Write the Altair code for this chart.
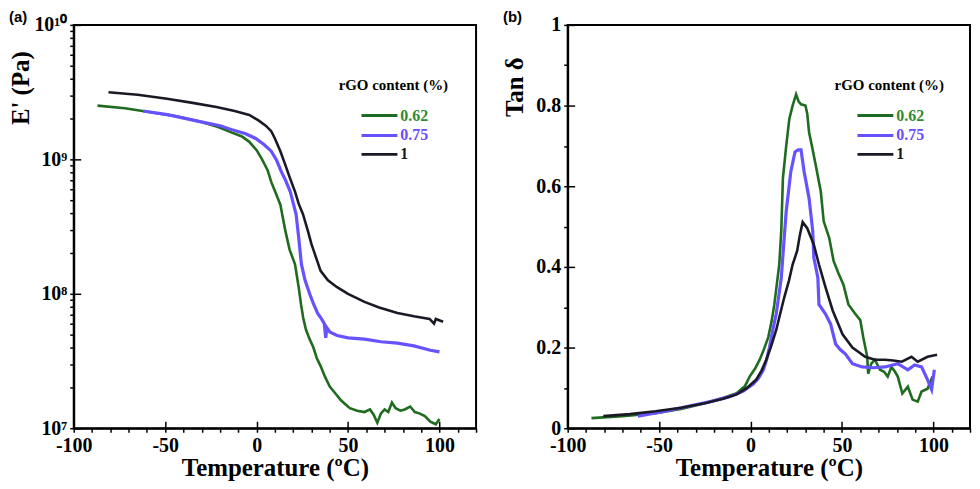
import altair as alt
import pandas as pd

# ---------------- data ----------------
SERIES = ["0.62", "0.75", "1"]
LINE_COLORS = ["#1f6b1f", "#6652ff", "#1a1a26"]
LABEL_COLORS = ["#2e8b2e", "#6a4cff", "#1a1a1a"]

# (a) storage modulus E' (Pa)
T_E_062 = [-87, -72, -58, -44, -31, -21, -13.5, -8, -4, 0, 3, 6, 8, 10.5, 13, 15.7, 18, 21, 23, 24.3,
           25.5, 27, 29, 31, 33, 35, 37.5, 40, 43, 46, 48.5, 51, 55, 59, 62, 64, 66, 68, 70, 72,
           74, 76, 78.6, 81, 84, 86.5, 89, 92, 95, 98, 100]
E_062 = [2.51e9, 2.40e9, 2.24e9, 2.09e9, 1.91e9, 1.74e9, 1.58e9, 1.48e9, 1.35e9, 1.17e9, 1.0e9, 8.3e8,
         6.8e8, 5.6e8, 4.6e8, 2.95e8, 2.14e8, 1.66e8, 1.12e8, 8.3e7, 6.6e7, 5.4e7, 4.6e7, 4.0e7, 3.3e7,
         2.9e7, 2.4e7, 2.04e7, 1.82e7, 1.62e7, 1.51e7, 1.41e7, 1.35e7, 1.32e7, 1.38e7, 1.26e7, 1.1e7,
         1.29e7, 1.38e7, 1.32e7, 1.55e7, 1.41e7, 1.35e7, 1.38e7, 1.45e7, 1.32e7, 1.29e7, 1.23e7, 1.12e7,
         1.07e7, 1.17e7]

T_E_075 = [-62, -48, -31, -20, -13.5, -6, -0.5, 4, 8, 11, 13.5, 16, 18.4, 21.6, 23, 24.5, 26.5, 29, 31,
           33.5, 35.5, 37, 37.8, 38.4, 40, 44, 50, 59, 68, 77, 86, 95, 100]
E_075 = [2.29e9, 2.14e9, 1.91e9, 1.78e9, 1.66e9, 1.55e9, 1.43e9, 1.29e9, 1.15e9, 9.8e8, 8.1e8, 6.9e8,
         5.75e8, 3.9e8, 2.63e8, 1.66e8, 1.26e8, 1.0e8, 8.5e7, 7.1e7, 6.5e7, 6.0e7, 4.7e7, 5.6e7, 5.2e7,
         4.9e7, 4.7e7, 4.6e7, 4.4e7, 4.3e7, 4.1e7, 3.8e7, 3.7e7]

T_E_1 = [-81, -65, -49, -35, -22, -12, -4, 1, 5, 8, 10, 13, 15.7, 18, 21, 23, 25.4, 28, 30, 32, 35, 39,
         44, 50, 59, 67, 77, 86, 94.6, 97, 98, 102]
E_1 = [3.16e9, 3.02e9, 2.82e9, 2.63e9, 2.45e9, 2.29e9, 2.14e9, 1.95e9, 1.78e9, 1.62e9, 1.43e9, 1.15e9,
       9.1e8, 7.4e8, 5.75e8, 4.68e8, 3.89e8, 2.95e8, 2.34e8, 1.95e8, 1.48e8, 1.26e8, 1.12e8, 1.0e8,
       8.7e7, 7.9e7, 7.2e7, 6.8e7, 6.5e7, 6.0e7, 6.5e7, 6.2e7]

# (b) Tan delta
T_D_062 = [-87, -70, -52, -38, -25, -15, -7.6, -3, -0.5, 2.5, 5, 7.5, 9.7, 11.5, 13, 15.7, 16.8, 17.7,
           19.5, 21.2, 23, 24.9, 26.3, 27.6, 30, 31, 32, 34, 35.7, 38.4, 40, 43, 45.4, 48, 50.8, 53.5,
           57, 60, 61.6, 63.8, 64.3, 66, 68, 70.8, 73, 75, 77, 79, 80.5, 83, 86, 88.6, 91.4, 93.5,
           96.8, 99.5]
D_062 = [0.025, 0.03, 0.037, 0.048, 0.062, 0.075, 0.087, 0.105, 0.128, 0.148, 0.17, 0.198, 0.226,
         0.265, 0.307, 0.406, 0.49, 0.62, 0.70, 0.767, 0.80, 0.828, 0.81, 0.803, 0.80, 0.78, 0.734,
         0.69, 0.651, 0.587, 0.513, 0.472, 0.415, 0.385, 0.356, 0.307, 0.285, 0.268, 0.226, 0.177,
         0.135, 0.16, 0.17, 0.145, 0.14, 0.128, 0.152, 0.14, 0.128, 0.086, 0.103, 0.071, 0.066, 0.091,
         0.098, 0.128]

T_D_075 = [-61.6, -48, -34.6, -22, -11, -4, 1.6, 4.5, 7, 8.8, 10.3, 12, 14, 15.5, 16.8, 18.4, 19.5, 22,
           24.3, 26, 27.6, 29.3, 32, 34, 34.6, 36.8, 37.4, 41, 43.8, 46.5, 49, 51.9, 55.7, 61, 67,
           73.5, 80.5, 86, 89.7, 93.5, 96.8, 99, 100.5]
D_075 = [0.03, 0.041, 0.054, 0.066, 0.079, 0.092, 0.11, 0.125, 0.145, 0.17, 0.2, 0.24, 0.283, 0.33,
         0.373, 0.472, 0.538, 0.636, 0.685, 0.69, 0.69, 0.636, 0.57, 0.489, 0.423, 0.373, 0.307, 0.283,
         0.258, 0.209, 0.195, 0.184, 0.16, 0.152, 0.15, 0.152, 0.16, 0.145, 0.157, 0.152, 0.12, 0.096,
         0.145]

T_D_1 = [-80.5, -66, -52, -38, -25, -15, -7.6, -2, 3, 6, 8.6, 11, 14, 16, 18.4, 21, 23, 25.5, 27, 28.5,
         31, 34.6, 37.4, 41, 44.9, 50.3, 55.7, 62.7, 68, 73.5, 78, 82.7, 88, 91.4, 96.8, 102]
D_1 = [0.03, 0.035, 0.042, 0.051, 0.062, 0.073, 0.084, 0.1, 0.12, 0.143, 0.17, 0.2, 0.243, 0.28, 0.324,
       0.366, 0.406, 0.44, 0.48, 0.511, 0.496, 0.455, 0.406, 0.349, 0.292, 0.233, 0.2, 0.177, 0.17,
       0.17, 0.168, 0.165, 0.177, 0.165, 0.177, 0.182]

X_TICKS = list(range(-100, 121, 10))
X_MAJOR = [-100, -50, 0, 50, 100]
E_TICKS = [k * 10 ** e for e in (7, 8, 9) for k in range(1, 10)] + [10 ** 10]
E_MAJOR = [10 ** 7, 10 ** 8, 10 ** 9, 10 ** 10]
D_TICKS = [i / 10 for i in range(0, 11)]
D_MAJOR = [0, 0.2, 0.4, 0.6, 0.8, 1]

SERIF = "Liberation Serif"
LEGEND_Y = [53, 91, 110]
PANEL_W = 404
PANEL_H = 405
X_SCALE = alt.Scale(domain=[-100, 120], nice=False)


def frame(ts, vs, name):
    return pd.DataFrame({"T": ts, "v": vs, "rGO": name})


X_AXIS = alt.Axis(
    values=X_TICKS, title="Temperature (ºC)", orient="bottom",
    labelExpr="datum.value % 50 == 0 ? '' + datum.value : ''",
    tickSize=4, labelPadding=3, titlePadding=0, labelFlush=False,
)


def major_axis(values, orient):
    return alt.Axis(values=values, orient=orient, labels=False, domain=False, title=None,
                    tickSize={"expr": "-7"}, tickWidth=1.5, grid=False)


def legend(i, lx):
    kw = dict(
        orient="none", legendX=lx, legendY=LEGEND_Y[i], padding=0,
        symbolType="stroke", symbolSize=1300, symbolStrokeWidth=3, symbolOffset=21,
        labelFont=SERIF, labelFontSize=16, labelFontWeight="bold", labelOffset=1,
        labelColor=LABEL_COLORS[i],
    )
    if i == 0:
        return alt.Legend(title="rGO content (%)", titleFont=SERIF, titleFontSize=15,
                          titleFontWeight="bold", titleColor="black", titlePadding=3, **kw)
    return alt.Legend(title=None, **kw)


def panel(frames, y_scale, y_axis, y_major, tag, lx):
    layers = []
    for i, f in enumerate(frames):
        layers.append(
            alt.Chart(f).mark_line(strokeWidth=3.2 if i == 1 else 2.6).encode(
                x=alt.X("T:Q", scale=X_SCALE, axis=X_AXIS),
                y=alt.Y("v:Q", scale=y_scale, axis=y_axis),
                color=alt.Color("rGO:N", scale=alt.Scale(domain=[SERIES[i]], range=[LINE_COLORS[i]]),
                                legend=legend(i, lx)),
                order=alt.Order("T:Q"),
            )
        )
    series = alt.layer(*layers).resolve_scale(color="independent").resolve_legend(color="independent")
    ticks = alt.Chart(frames[0]).mark_line(opacity=0).encode(
        x=alt.X("T:Q", scale=X_SCALE, axis=major_axis(X_MAJOR, "bottom")),
        y=alt.Y("v:Q", scale=y_scale, axis=major_axis(y_major, "left")),
    )
    return alt.layer(series, ticks).resolve_axis(x="independent", y="independent").properties(
        width=PANEL_W, height=PANEL_H,
        title=alt.TitleParams(tag, anchor="start", frame="bounds", font="Liberation Sans",
                              fontSize=15, fontWeight="bold", offset=-10),
    )


sup = {7: "⁷", 8: "⁸", 9: "⁹", 10: "¹⁰"}
e_label = " : ".join("datum.value == %d ? '10%s'" % (10 ** p, s) for p, s in sup.items()) + " : ''"

axis_a = alt.Axis(values=E_TICKS, labelExpr=e_label, title="E' (Pa)", orient="left", tickSize=4,
                  titleAnchor="middle", titleX=-40, titleY=63, labelPadding=3, labelFlush=False)
axis_b = alt.Axis(values=D_TICKS, title="Tan δ", orient="left", tickSize=4,
                  labelExpr="round(datum.value * 10) % 2 == 0 ? '' + datum.value : ''",
                  titleAnchor="middle", titleX=-40, titleY=62, labelPadding=3, labelFlush=False)

panel_a = panel([frame(T_E_062, E_062, SERIES[0]), frame(T_E_075, E_075, SERIES[1]),
                 frame(T_E_1, E_1, SERIES[2])],
                alt.Scale(type="log", domain=[1e7, 1e10], nice=False), axis_a, E_MAJOR, "(a)", 266)
panel_b = panel([frame(T_D_062, D_062, SERIES[0]), frame(T_D_075, D_075, SERIES[1]),
                 frame(T_D_1, D_1, SERIES[2])],
                alt.Scale(domain=[0, 1], nice=False), axis_b, D_MAJOR, "(b)", 268)

chart = alt.hconcat(panel_a, panel_b, spacing=24).resolve_scale(
    color="independent").resolve_legend(color="independent").properties(
    padding={"left": 0, "top": 0, "right": 0, "bottom": 0}
).configure_view(
    stroke="black", strokeWidth=2
).configure_axis(
    grid=False, domainColor="black", domainWidth=2, tickColor="black", tickWidth=1.5,
    labelFont=SERIF, labelFontSize=20, labelFontWeight="bold", labelColor="black",
    titleFont=SERIF, titleFontSize=25, titleFontWeight="bold", titleColor="black",
)

chart.save("out.html", embed_options={"renderer": "svg", "actions": False})
